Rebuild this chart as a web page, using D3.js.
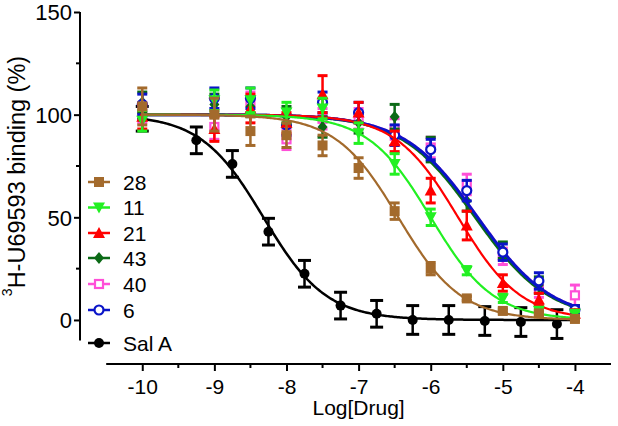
<!DOCTYPE html>
<html>
<head>
<meta charset="utf-8">
<script src="https://cdn.jsdelivr.net/npm/d3@7"></script>
<style>
body { margin: 0; background: #fff; }
text { font-family: "Liberation Sans", Arial, sans-serif; fill: #000; }
</style>
</head>
<body>
<div id="chart"></div>
<script>
var svgwidth = 618;
var svgheight = 426;

// compounds, in legend order
var names = ["28", "11", "21", "43", "40", "6", "Sal A"];
var colors = ["#a36a2c", "#22f022", "#ff0000", "#0b6a16", "#ff4fd8", "#0a14c8", "#000000"];
var symbols = ["square", "triDown", "triUp", "diamond", "openSquare", "openCircle", "circle"];

// log concentrations
var logx = [-10, -9, -8.5, -8, -7.5, -7, -6.5, -6, -5.5, -5, -4.5, -4];
var logxSal = [-10, -9.25, -8.75, -8.25, -7.75, -7.25, -6.75, -6.25, -5.75, -5.25, -4.75, -4.25];

// % binding
var y28  = [104, 100, 92, 90, 85, 74, 53, 25, 10.5, 4.4, 3.2, 0.5];
var y11  = [97, 107, 107, 101, 103, 91, 76, 50, 24, 10.5, 4.5, 3];
var y21  = [99, 93, 103, 96, 110, 101, 87, 63, 46, 18, 10, 3];
var y43  = [106, 105, 104, 99, 94, 96, 99, 83, 58, 34, 17, 5];
var y40  = [101, 94, 106, 88, 98, 98, 93, 84, 66, 31, 15, 12];
var y6   = [105, 108, 108, 95, 106, 101, 90, 83, 63, 33, 19, 5];
var ySal = [98, 87.5, 76, 43, 22.5, 7, 3, 0, 0, -0.5, -1, -2];

// SEM
var e28  = [9, 8, 7, 6, 5, 5, 4, 3, 1, 1, 1, 1];
var e11  = [5, 5, 6, 5, 5, 5, 5, 4, 2, 2, 1, 1];
var e21  = [6, 6, 7, 5, 9, 5, 5, 6, 7, 4, 3, 2];
var e43  = [5, 5, 5, 5, 5, 5, 6, 6, 5, 4, 4, 2];
var e40  = [5, 6, 5, 5, 5, 5, 5, 5, 5, 4, 4, 5];
var e6   = [5, 5, 5, 5, 5, 5, 5, 5, 5, 4, 4, 2];
var eSal = [6, 6.5, 6.5, 6.5, 6.5, 6.5, 6.5, 7, 7, 7, 7, 7];

// fitted one-site curves: logIC50 and Hill slope
var logIC50 = [-6.45, -6.0, -5.62, -5.38, -5.35, -5.35, -8.32];
var hill = [1.0, 1.0, 1.0, 0.85, 0.85, 0.85, 1.0];

var yTicks = [0, 50, 100, 150];
var yMinor = [25, 75, 125];
var xTicks = [-10, -9, -8, -7, -6, -5, -4];
var xMinor = [-9.5, -8.5, -7.5, -6.5, -5.5, -4.5];

var series = [
  {x: logx, y: y28, e: e28},
  {x: logx, y: y11, e: e11},
  {x: logx, y: y21, e: e21},
  {x: logx, y: y43, e: e43},
  {x: logx, y: y40, e: e40},
  {x: logx, y: y6, e: e6},
  {x: logxSal, y: ySal, e: eSal}
];

var svg = d3.select("#chart")
  .append("svg")
  .attr("width", svgwidth)
  .attr("height", svgheight);

var xscale = d3.scaleLinear().domain([-10.5, -3.5]).range([106.2, 611]);
var yscale = d3.scaleLinear().domain([-10, 150]).range([340.5, 12]);

// y axis
var yaxis = svg.append("g").attr("transform", "translate(80,0)");
yaxis.append("line")
  .attr("x1", 0).attr("x2", 0)
  .attr("y1", yscale(-10)).attr("y2", yscale(150))
  .attr("stroke", "#000").attr("stroke-width", 2);
yaxis.call(d3.axisLeft(yscale).tickValues(yTicks).tickSize(6).tickPadding(2))
  .call(function(g) { g.select(".domain").remove(); })
  .call(function(g) {
    g.selectAll(".tick line").attr("stroke-width", 2);
    g.selectAll(".tick text").style("font-size", "22px").attr("dy", "0.36em");
  });
yaxis.selectAll(".minor")
  .data(yMinor)
  .enter()
  .append("line")
  .attr("x1", -4).attr("x2", 0)
  .attr("y1", function(d) { return yscale(d); })
  .attr("y2", function(d) { return yscale(d); })
  .attr("stroke", "#000").attr("stroke-width", 2);

// x axis
var xaxis = svg.append("g").attr("transform", "translate(0,364)");
xaxis.append("line")
  .attr("x1", xscale(-10.5)).attr("x2", xscale(-3.5))
  .attr("y1", 0).attr("y2", 0)
  .attr("stroke", "#000").attr("stroke-width", 2);
xaxis.call(d3.axisBottom(xscale).tickValues(xTicks).tickSize(7).tickPadding(8)
    .tickFormat(function(d) { return String(d); }))
  .call(function(g) { g.select(".domain").remove(); })
  .call(function(g) {
    g.selectAll(".tick line").attr("stroke-width", 2);
    g.selectAll(".tick text").style("font-size", "21px");
  });
xaxis.selectAll(".minor")
  .data(xMinor)
  .enter()
  .append("line")
  .attr("x1", function(d) { return xscale(d); })
  .attr("x2", function(d) { return xscale(d); })
  .attr("y1", 0).attr("y2", 4)
  .attr("stroke", "#000").attr("stroke-width", 2);

svg.append("text")
  .attr("x", xscale(-7))
  .attr("y", 415)
  .attr("text-anchor", "middle")
  .style("font-size", "21px")
  .text("Log[Drug]");

var ytitle = svg.append("text")
  .attr("transform", "translate(25,176) rotate(-90)")
  .attr("text-anchor", "middle")
  .style("font-size", "23.5px");
ytitle.append("tspan").attr("dy", "-13px").style("font-size", "14px").text("3");
ytitle.append("tspan").attr("dy", "13px").text("H-U69593 binding (%)");

function marker(g, kind, color) {
  var s = 5;
  if (kind == "square") {
    g.append("rect").attr("x", -s).attr("y", -s).attr("width", 2 * s).attr("height", 2 * s).attr("fill", color);
  } else if (kind == "openSquare") {
    g.append("rect").attr("x", -s + 1).attr("y", -s + 1).attr("width", 2 * s - 2).attr("height", 2 * s - 2)
      .attr("fill", "#fff").attr("stroke", color).attr("stroke-width", 2.2);
  } else if (kind == "openCircle") {
    g.append("circle").attr("r", s - 0.5).attr("fill", "#fff").attr("stroke", color).attr("stroke-width", 2.2);
  } else if (kind == "circle") {
    g.append("circle").attr("r", s).attr("fill", color);
  } else if (kind == "diamond") {
    g.append("path").attr("d", "M0,-6L5,0L0,6L-5,0Z").attr("fill", color);
  } else if (kind == "triUp") {
    g.append("path").attr("d", "M0,-6L6,5L-6,5Z").attr("fill", color);
  } else if (kind == "triDown") {
    g.append("path").attr("d", "M0,6L6,-5L-6,-5Z").attr("fill", color);
  }
}

var line = d3.line()
  .x(function(d) { return xscale(d[0]); })
  .y(function(d) { return yscale(d[1]); });

var plot = svg.append("g");

// Sal A first, then the overlapping 40/43/6 group, 28 ends up on top
var order = [6, 4, 3, 5, 2, 1, 0];
order.forEach(function(i) {
  var s = series[i];
  var color = colors[i];
  var g = plot.append("g");
  var fitx = d3.range(-10, -3.999, 0.02);
  var pts = fitx.map(function(lx) {
    return [lx, 100 / (1 + Math.pow(10, (lx - logIC50[i]) * hill[i]))];
  });
  g.append("path")
    .attr("d", line(pts))
    .attr("fill", "none")
    .attr("stroke", color)
    .attr("stroke-width", i == 6 ? 2.5 : (i >= 3 ? 3 : 2.2));

  var cap = i == 6 ? 6.5 : 5;
  s.x.forEach(function(lx, j) {
    var cx = xscale(lx);
    var top = yscale(s.y[j] + s.e[j]);
    var bot = yscale(s.y[j] - s.e[j]);
    g.append("line").attr("x1", cx).attr("x2", cx).attr("y1", top).attr("y2", bot)
      .attr("stroke", color).attr("stroke-width", 2.5);
    g.append("line").attr("x1", cx - cap).attr("x2", cx + cap).attr("y1", top).attr("y2", top)
      .attr("stroke", color).attr("stroke-width", 3);
    g.append("line").attr("x1", cx - cap).attr("x2", cx + cap).attr("y1", bot).attr("y2", bot)
      .attr("stroke", color).attr("stroke-width", 3);
    var m = g.append("g").attr("transform", "translate(" + cx + "," + yscale(s.y[j]) + ")");
    marker(m, symbols[i], color);
  });
});

// legend
var legendY = [182, 207.5, 233, 258, 284, 310, 343];
var legend = svg.append("g");
names.forEach(function(name, i) {
  var row = legend.append("g").attr("transform", "translate(0," + legendY[i] + ")");
  row.append("line").attr("x1", 88).attr("x2", 110).attr("y1", 0).attr("y2", 0)
    .attr("stroke", colors[i]).attr("stroke-width", 2.5);
  var m = row.append("g").attr("transform", "translate(99,0)");
  marker(m, symbols[i], colors[i]);
  row.append("text")
    .attr("x", 123)
    .attr("y", 0)
    .attr("dy", "0.36em")
    .style("font-size", "21px")
    .text(name);
});
</script>
</body>
</html>
